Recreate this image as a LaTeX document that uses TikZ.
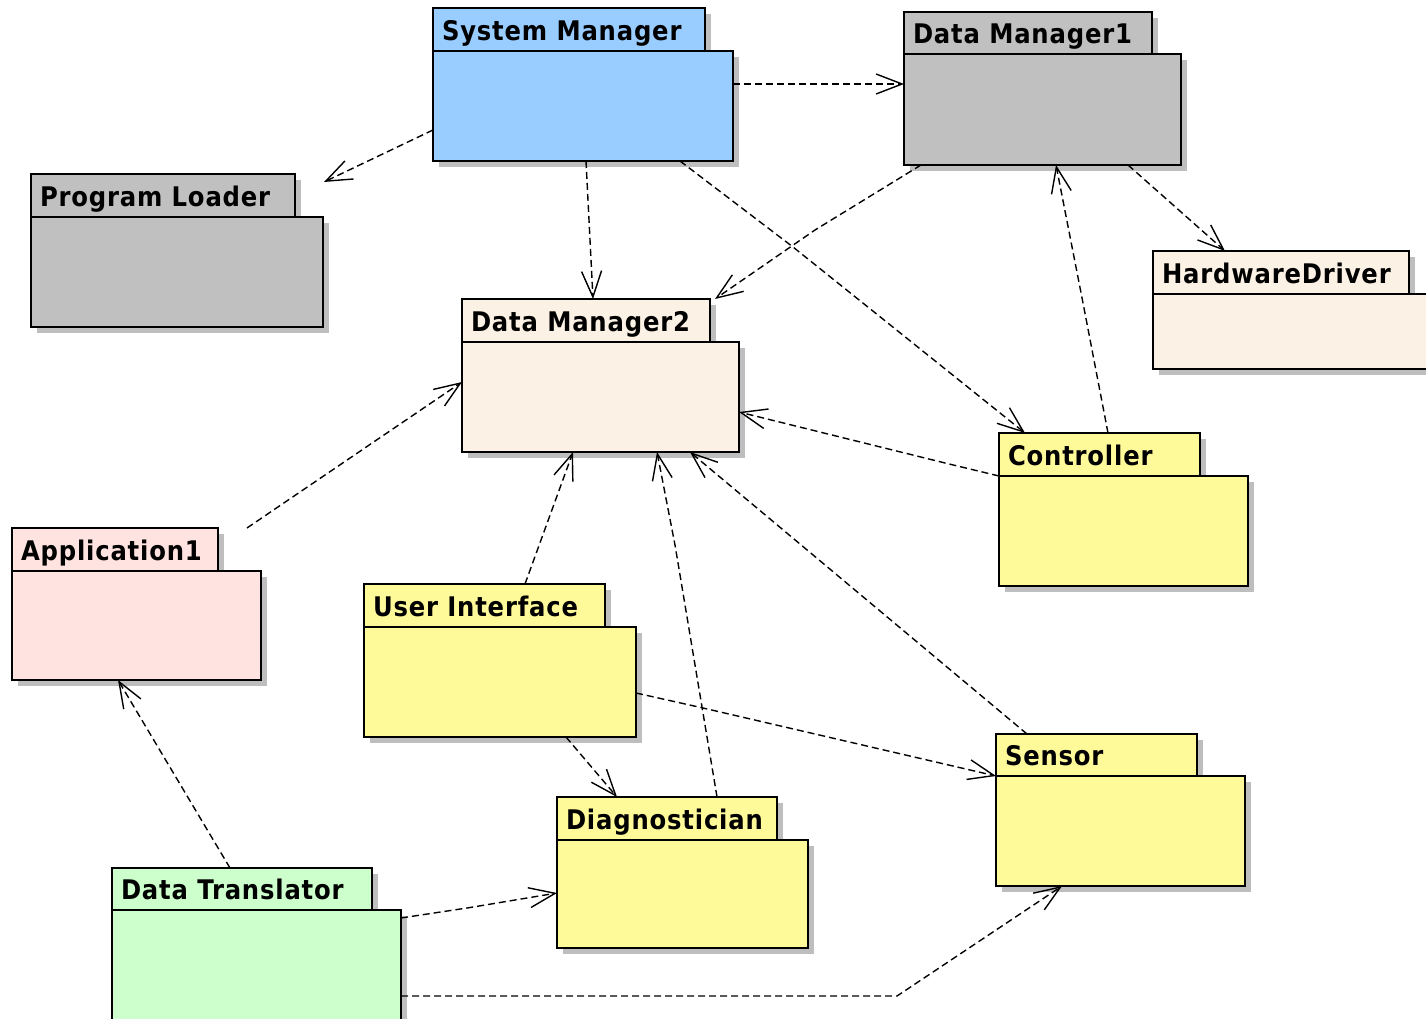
\documentclass[tikz,border=0pt]{standalone}
\usepackage{fontspec}
\newfontfamily\pkgfont[LetterSpace=3,FakeStretch=0.9]{DejaVu Sans}
\usetikzlibrary{arrows.meta,calc,shadows}
\definecolor{smblue}{HTML}{99CCFF}
\definecolor{pgray}{HTML}{C0C0C0}
\definecolor{pbeige}{HTML}{FBF1E4}
\definecolor{pyellow}{HTML}{FFFA99}
\definecolor{ppink}{HTML}{FFE3E0}
\definecolor{pgreen}{HTML}{CCFFCC}
\definecolor{shgray}{HTML}{BEBEBE}
\tikzset{
  pkgpart/.style={draw=black, line width=1.6pt, rectangle, inner sep=0pt, outer sep=0pt,
    drop shadow={shadow xshift=6pt, shadow yshift=-6pt, fill=shgray, opacity=1}},
  pkglabel/.style={font=\pkgfont\bfseries\fontsize{27}{27}\selectfont, inner sep=0pt, outer sep=0pt,
    text height=19.5pt, text depth=0pt, anchor=west},
  dep/.style={draw=black, line width=1.4pt, dash pattern=on 7pt off 4pt,
    -{Straight Barb[length=26pt,width=20pt,line width=1.4pt]}}
}
\newcommand\umlpkg[9]{%
  \node[pkgpart, fill=#2, minimum width={#5-#3}, minimum height={#6-#4}, anchor=north west] (#1T) at (#3,#4) {};
  \node[pkglabel] (#1L) at ([xshift=9pt,yshift=-1pt]#1T.west) {#9};
  \node[pkgpart, fill=#2, minimum width={#7-#3}, minimum height={#8-#6}, anchor=north west] (#1) at (#3,#6) {};
}
\begin{document}
\begin{tikzpicture}[x=1pt,y=-1pt]
\useasboundingbox (0,0) rectangle (1426,1019);
\fill[white] (0,0) rectangle (1426,1019);
% packages
\umlpkg{sm}{smblue}{433}{8}{705}{51}{733}{161}{System Manager}
\umlpkg{pl}{pgray}{31}{174}{295}{217}{323}{327}{Program Loader}
\umlpkg{dma}{pgray}{904}{12}{1152}{54}{1181}{165}{Data Manager1}
\umlpkg{hd}{pbeige}{1153}{251}{1409}{294}{1445}{369}{HardwareDriver}
\umlpkg{dmb}{pbeige}{462}{299}{710}{342}{739}{452}{Data Manager2}
\umlpkg{ctl}{pyellow}{999}{433}{1200}{476}{1248}{586}{Controller}
\umlpkg{app}{ppink}{12}{528}{218}{571}{261}{680}{Application1}
\umlpkg{ui}{pyellow}{364}{584}{605}{627}{636}{737}{User Interface}
\umlpkg{dg}{pyellow}{557}{797}{777}{840}{808}{948}{Diagnostician}
\umlpkg{sen}{pyellow}{996}{734}{1197}{776}{1245}{886}{Sensor}
\umlpkg{dt}{pgreen}{112}{868}{372}{910}{401}{1045}{Data Translator}
% free end
\coordinate (plTip) at ($(plT.north east)+(29,8)$);
% dependencies
\draw[dep] ($(sm.north east)+(0,33)$) -- ($(dma.north west)+(0,30)$);
\draw[dep] ($(sm.north west)+(0,79)$) -- (plTip);
\draw[dep] ($(sm.south west)+(153,0)$) -- ($(dmbT.north west)+(131,0)$);
\draw[dep] ($(sm.south west)+(247,0)$) -- (793,247) -- ($(ctlT.north west)+(26,0)$);
\draw[dep] ($(dma.south west)+(17,0)$) -- (815,230) -- ($(dmbT.north east)+(5,0)$);
\draw[dep] ($(dma.south west)+(224,0)$) -- ($(hdT.north west)+(72,0)$);
\draw[dep] ($(ctlT.north west)+(109,0)$) -- (1083,303) -- ($(dma.south west)+(152,0)$);
\draw[dep] (ctl.north west) -- (945,463) -- ($(dmb.north east)+(0,70)$);
\draw[dep] ($(appT.north east)+(29,0)$) -- ($(dmb.north west)+(0,40)$);
\draw[dep] ($(uiT.north west)+(161,0)$) -- ($(dmb.south west)+(111,0)$);
\draw[dep] ($(dgT.north west)+(160,0)$) -- (675,545) -- ($(dmb.south west)+(195,0)$);
\draw[dep] ($(senT.north west)+(31,0)$) -- ($(dmb.south west)+(228,0)$);
\draw[dep] ($(ui.north east)+(0,66)$) -- (703,708) -- (sen.north west);
\draw[dep] ($(ui.south west)+(202,0)$) -- ($(dgT.north west)+(60,0)$);
\draw[dep] ($(dtT.north west)+(118,0)$) -- ($(app.south west)+(106,0)$);
\draw[dep] ($(dt.north east)+(0,8)$) -- (467,908) -- ($(dg.north west)+(0,53)$);
\draw[dep] ($(dt.north east)+(0,86)$) -- (897,996) -- ($(sen.south west)+(66,0)$);
\end{tikzpicture}
\end{document}
